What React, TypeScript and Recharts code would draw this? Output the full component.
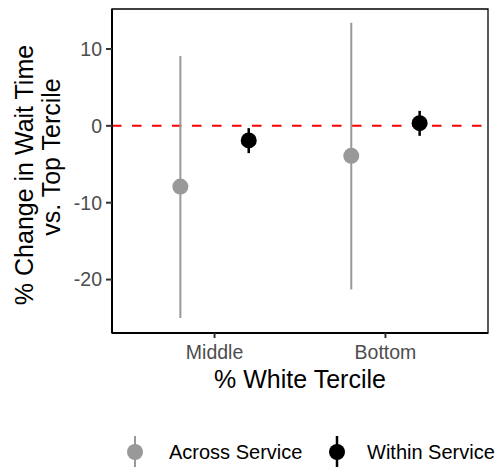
import React from 'react';
import { ScatterChart, Scatter, XAxis, YAxis, ErrorBar, ReferenceLine, ReferenceArea, Legend } from 'recharts';

const categories = ['Middle', 'Bottom'];
const seriesNames = ['Across Service', 'Within Service'];

const acrossEst = [-7.9, -3.9];
const acrossLow = [-25.0, -21.3];
const acrossHigh = [9.1, 13.4];

const withinEst = [-1.9, 0.35];
const withinLow = [-3.55, -1.3];
const withinHigh = [-0.3, 1.95];

const yTicks = [-20, -10, 0, 10];

const DODGE = 0.2;
const FONT = 'Liberation Sans, Arial, Helvetica, sans-serif';

const toPoints = (est: number[], low: number[], high: number[], shift: number) =>
  est.map((y, i) => ({
    x: i + 1 + shift,
    y,
    err: [y - low[i], high[i] - y],
  }));

const acrossData = toPoints(acrossEst, acrossLow, acrossHigh, -DODGE);
const withinData = toPoints(withinEst, withinLow, withinHigh, DODGE);

const Dot = ({ cx, cy, fill }: any) => <circle cx={cx} cy={cy} r={8} fill={fill} />;

const YTitle = () => (
  <g>
    <text transform="rotate(-90)" x={-175} y={33} textAnchor="middle" fontSize={25} fill="#000" fontFamily={FONT}>
      % Change in Wait Time
    </text>
    <text transform="rotate(-90)" x={-157} y={60} textAnchor="middle" fontSize={25} fill="#000" fontFamily={FONT}>
      vs. Top Tercile
    </text>
  </g>
);

// key centre and text start for each legend entry
const legendKeyX = [135, 337];
const legendTextX = [169, 367];
const legendColors = ['#999999', '#000000'];

const LegendContent = () => (
  <div style={{ position: 'relative', width: 499, height: 36, fontFamily: FONT }}>
    {seriesNames.map((name, i) => (
      <React.Fragment key={name}>
        <svg width={16} height={36} style={{ position: 'absolute', left: legendKeyX[i] - 8, top: 0, display: 'block' }}>
          <line x1={8} x2={8} y1={5} y2={36} stroke={legendColors[i]} strokeWidth={i === 0 ? 2 : 2.5} />
          <circle cx={8} cy={21} r={8} fill={legendColors[i]} />
        </svg>
        <span
          style={{
            position: 'absolute',
            left: legendTextX[i],
            top: 11,
            fontSize: 20,
            color: '#000',
            lineHeight: '20px',
            whiteSpace: 'nowrap',
          }}
        >
          {name}
        </span>
      </React.Fragment>
    ))}
  </div>
);

export default function App() {
  return (
    <div style={{ position: 'absolute', left: 0, top: 0, width: 499, height: 467, background: '#fff' }}>
      <ScatterChart width={499} height={467} margin={{ top: 9, right: 11, bottom: 0, left: 0 }}>
        <ReferenceArea
          x1={0.4}
          x2={2.6}
          y1={-26.95}
          y2={15.2}
          fill="none"
          stroke="#000"
          strokeWidth={1.3}
          ifOverflow="visible"
        />
        <XAxis
          type="number"
          dataKey="x"
          domain={[0.4, 2.6]}
          ticks={[1, 2]}
          allowDataOverflow
          tickFormatter={(v: number) => categories[v - 1]}
          height={134}
          axisLine={{ stroke: '#000', strokeWidth: 2 }}
          tickLine={{ stroke: '#333', strokeWidth: 2 }}
          tickSize={5}
          tickMargin={7}
          tick={{ fill: '#4d4d4d', fontSize: 19.5, fontFamily: FONT }}
          label={{ value: '% White Tercile', position: 'insideTop', offset: 37, fill: '#000', fontSize: 25, fontFamily: FONT }}
        />
        <YAxis
          type="number"
          dataKey="y"
          domain={[-26.95, 15.2]}
          ticks={yTicks}
          allowDataOverflow
          width={112}
          axisLine={{ stroke: '#000', strokeWidth: 2 }}
          tickLine={{ stroke: '#333', strokeWidth: 2 }}
          tickSize={6}
          tickMargin={4}
          tick={{ fill: '#4d4d4d', fontSize: 19.5, fontFamily: FONT }}
          label={<YTitle />}
        />
        <ReferenceLine y={0} stroke="#ff0000" strokeWidth={2} strokeDasharray="9.5 10.5" />
        <Scatter
          name={seriesNames[0]}
          data={acrossData}
          fill="#999999"
          shape={<Dot fill="#999999" />}
          isAnimationActive={false}
        >
          <ErrorBar dataKey="err" direction="y" width={0} stroke="#999999" strokeWidth={2} isAnimationActive={false} />
        </Scatter>
        <Scatter
          name={seriesNames[1]}
          data={withinData}
          fill="#000000"
          shape={<Dot fill="#000000" />}
          isAnimationActive={false}
        >
          <ErrorBar dataKey="err" direction="y" width={0} stroke="#000000" strokeWidth={2.5} isAnimationActive={false} />
        </Scatter>
        <Legend
          verticalAlign="middle"
          align="center"
          content={<LegendContent />}
          wrapperStyle={{ top: 431, left: 0, width: 499, height: 36 }}
        />
      </ScatterChart>
    </div>
  );
}
